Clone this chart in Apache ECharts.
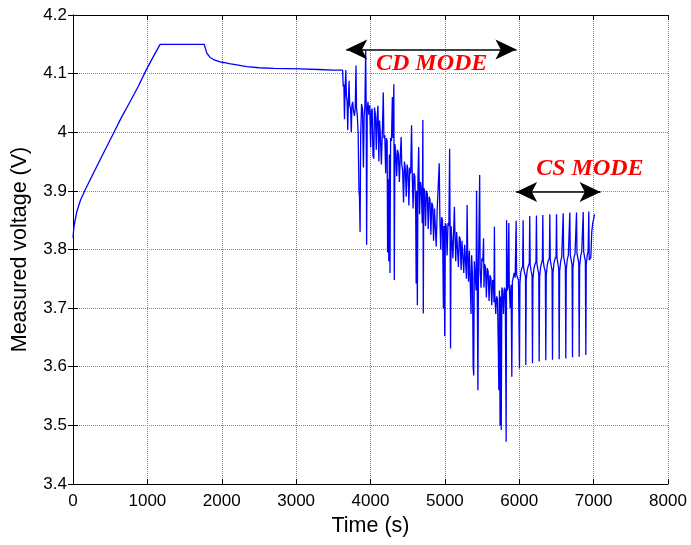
<!DOCTYPE html>
<html>
<head>
<meta charset="utf-8">
<script src="https://cdn.jsdelivr.net/npm/echarts@6/dist/echarts.min.js"></script>
<style>html,body{margin:0;padding:0;background:#fff;}#c{width:691px;height:545px;}</style>
</head>
<body>
<div id="c"></div>
<script>
// ---- data ----
const xTicks = [0, 1000, 2000, 3000, 4000, 5000, 6000, 7000, 8000];
const yTicks = [3.4, 3.5, 3.6, 3.7, 3.8, 3.9, 4.0, 4.1, 4.2];

// charging phase (time in s, voltage in V)
const timeCharge = [0, 4, 13, 50, 100, 161, 274, 400, 543, 650, 767, 880, 983, 1080, 1171, 1763, 1780, 1799, 1840, 1888, 1979, 2023, 2100, 2203, 2338, 2500, 2700, 3055, 3300, 3500, 3625];
const voltCharge = [3.820, 3.822, 3.839, 3.864, 3.884, 3.901, 3.930, 3.962, 3.998, 4.025, 4.052, 4.079, 4.106, 4.129, 4.150, 4.150, 4.143, 4.135, 4.128, 4.124, 4.120, 4.119, 4.117, 4.115, 4.112, 4.110, 4.109, 4.108, 4.107, 4.106, 4.106];

// charge-depleting (CD) phase
const timeCD = [3633,3642,3650,3658,3668,3676,3686,3694,3702,3712,3720,3732,3742,3750,3760,3772,3784,3795,3805,3812,3822,3834,3845,3852,3860,3868,3880,3892,3905,3915,3925,3935,3942,3948,3956,3966,3978,3990,4002,4012,4022,4034,4044,4054,4066,4078,4088,4100,4112,4122,4134,4146,4160,4172,4180,4192,4204,4214,4224,4230,4238,4246,4254,4262,4270,4282,4294,4302,4314,4320,4328,4340,4352,4364,4376,4388,4400,4412,4420,4432,4444,4456,4468,4480,4492,4504,4516,4528,4540,4552,4560,4572,4584,4596,4608,4614,4620,4630,4638,4648,4660,4672,4684,4696,4704,4710,4716,4728,4740,4752,4764,4776,4788,4800,4812,4824,4836,4848,4860,4872,4884,4896,4910,4924,4932,4944,4956,4968,4980,4988,4998,5006,5018,5030,5042,5054,5064,5070,5076,5084,5096,5108,5120,5128,5134,5146,5158,5170,5182,5194,5206,5218,5230,5242,5254,5266,5278,5290,5299,5306,5318,5330,5342,5352,5360,5372,5380,5388,5396,5408,5420,5426,5434,5444,5452,5460,5468,5474,5486,5498,5510,5520,5526,5534,5546,5558,5570,5582,5594,5606,5618,5630,5642,5654,5660,5666,5672,5684,5696,5708,5718,5726,5734,5742,5750,5758,5766,5776,5788,5800,5812,5818,5824,5830,5838,5848,5860,5866,5878,5890,5900,5908,5920,5932,5945];
const voltCD = [4.078,4.082,4.022,4.070,4.106,4.062,4.052,4.004,4.050,4.088,4.046,4.040,4.000,4.046,4.052,4.036,4.028,4.040,4.114,4.042,4.030,3.998,3.900,3.890,3.830,3.995,4.048,4.040,3.940,4.030,4.044,4.140,4.044,3.808,4.036,4.052,4.030,4.046,3.975,4.036,4.040,3.960,3.955,4.042,4.030,3.970,4.022,4.045,3.950,4.020,3.990,3.945,4.005,4.068,3.990,3.995,3.930,3.990,3.985,3.795,3.920,3.780,3.962,3.760,3.990,3.985,4.060,3.990,4.082,3.748,3.980,3.965,3.925,3.970,3.962,3.915,3.958,3.992,3.945,3.935,3.880,3.950,3.938,3.890,3.945,3.935,3.875,3.940,3.930,4.012,3.935,3.870,3.930,3.925,3.860,3.742,3.900,3.705,3.920,3.975,3.860,3.915,3.900,3.845,4.021,3.691,3.905,3.900,3.840,3.900,3.895,3.835,3.890,3.885,3.825,3.880,3.875,3.815,3.870,3.868,3.805,3.865,3.862,3.947,3.860,3.800,3.855,3.850,3.700,3.840,3.652,3.845,3.840,3.790,3.845,3.840,3.972,3.840,3.631,3.840,3.838,3.785,3.840,3.873,3.835,3.780,3.830,3.828,3.770,3.822,3.818,3.765,3.815,3.812,3.760,3.808,3.805,3.750,3.876,3.800,3.745,3.798,3.795,3.690,3.790,3.752,3.600,3.585,3.780,3.778,3.730,3.900,3.770,3.560,3.770,3.768,3.927,3.765,3.735,3.785,3.780,3.819,3.735,3.775,3.770,3.718,3.768,3.762,3.712,3.756,3.752,3.705,3.748,3.742,3.710,3.839,3.722,3.690,3.720,3.715,3.634,3.560,3.730,3.500,3.720,3.492,3.735,3.730,3.690,3.735,3.730,3.600,3.472,3.850,3.730,3.735,3.845,3.738,3.700,3.740,3.583,3.745,3.748,3.760,3.752];

// charge-sustaining (CS) phase
const timeCS = [5958,5964,5975,5990,6003,6009,6020,6034,6046,6052,6058,6072,6084,6088,6094,6108,6122,6135,6141,6147,6160,6172,6178,6184,6198,6212,6225,6231,6237,6250,6262,6268,6274,6288,6302,6311,6317,6323,6336,6351,6357,6363,6377,6391,6405,6411,6417,6430,6441,6447,6453,6467,6481,6495,6501,6507,6520,6531,6537,6543,6557,6571,6585,6591,6597,6610,6620,6626,6632,6646,6660,6674,6680,6686,6700,6710,6716,6722,6736,6750,6764,6770,6776,6790,6800,6806,6812,6826,6840,6854,6860,6866,6878,6889,6895,6901,6914,6926,6935,6941,6962,6975,6988,7000,7012];
const voltCS = [3.849,3.758,3.752,3.748,3.597,3.742,3.760,3.768,3.772,3.850,3.770,3.760,3.754,3.603,3.748,3.765,3.772,3.776,3.857,3.774,3.763,3.756,3.606,3.750,3.768,3.775,3.779,3.858,3.777,3.766,3.759,3.609,3.753,3.771,3.778,3.782,3.859,3.780,3.769,3.762,3.611,3.756,3.774,3.781,3.785,3.860,3.783,3.772,3.765,3.612,3.759,3.777,3.784,3.788,3.860,3.786,3.775,3.768,3.613,3.762,3.780,3.787,3.790,3.862,3.788,3.778,3.771,3.614,3.765,3.783,3.790,3.793,3.863,3.791,3.781,3.774,3.616,3.768,3.786,3.793,3.796,3.863,3.794,3.784,3.777,3.617,3.771,3.789,3.796,3.799,3.864,3.797,3.787,3.780,3.620,3.775,3.790,3.797,3.865,3.782,3.786,3.830,3.845,3.852,3.860];

// annotations: [start time, end time, voltage]
const cdArrow = [3674, 5962, 4.141];
const csArrow = [5958, 7093, 3.898];
const cdLabel = {text: 'CD MODE', t: 4822, v: 4.116};
const csLabel = {text: 'CS MODE', t: 6950, v: 3.938};

const time = timeCharge.concat(timeCD, timeCS);
const volt = voltCharge.concat(voltCD, voltCS);
const seriesData = time.map((t, i) => [t, volt[i]]);

const FONT = '"Liberation Sans", Arial, sans-serif';
const chart = echarts.init(document.getElementById('c'), null, {renderer: 'canvas'});

const gridLine = {show: true, lineStyle: {color: '#888', type: [1, 1], width: 1}};
const axisLine = {show: true, lineStyle: {color: '#000', width: 1}};
const tick = {show: true, inside: true, length: 5, lineStyle: {color: '#000'}};

chart.setOption({
  animation: false,
  backgroundColor: '#fff',
  grid: {left: 73, right: 23, top: 15, bottom: 61, containLabel: false},
  xAxis: [{
    type: 'value', min: xTicks[0], max: xTicks[xTicks.length - 1], interval: 1000,
    position: 'bottom',
    name: 'Time (s)', nameLocation: 'middle', nameGap: 30,
    nameTextStyle: {fontFamily: FONT, fontSize: 21.5, color: '#000'},
    axisLine: axisLine, axisTick: tick,
    axisLabel: {fontFamily: FONT, fontSize: 17, color: '#000', margin: 9,
      formatter: v => String(Math.round(v))},
    splitLine: gridLine
  }, {
    type: 'value', min: xTicks[0], max: xTicks[xTicks.length - 1], interval: 1000,
    position: 'top', axisLine: axisLine, axisTick: tick,
    axisLabel: {show: false}, splitLine: {show: false}
  }],
  yAxis: [{
    type: 'value', min: yTicks[0], max: yTicks[yTicks.length - 1], interval: 0.1,
    position: 'left',
    name: 'Measured voltage (V)', nameLocation: 'middle', nameGap: 42, nameRotate: 90,
    nameTextStyle: {fontFamily: FONT, fontSize: 21.5, color: '#000'},
    axisLine: axisLine, axisTick: tick,
    axisLabel: {fontFamily: FONT, fontSize: 17, color: '#000', margin: 6,
      formatter: v => String(Math.round(v * 10) / 10)},
    splitLine: gridLine
  }, {
    type: 'value', min: yTicks[0], max: yTicks[yTicks.length - 1], interval: 0.1,
    position: 'right', axisLine: axisLine, axisTick: tick,
    axisLabel: {show: false}, splitLine: {show: false}
  }],
  series: [{
    type: 'line',
    xAxisIndex: 0, yAxisIndex: 0,
    data: seriesData,
    showSymbol: false, symbol: 'none',
    sampling: null,
    lineStyle: {color: '#0000ff', width: 1.3},
    itemStyle: {color: '#0000ff'},
    markLine: {
      silent: true,
      symbol: ['arrow', 'arrow'],
      symbolSize: [15, 21],
      label: {show: false},
      lineStyle: {color: '#000', width: 1.6, type: 'solid'},
      itemStyle: {color: '#000'},
      data: [
        [{coord: [cdArrow[0], cdArrow[2]]}, {coord: [cdArrow[1], cdArrow[2]]}],
        [{coord: [csArrow[0], csArrow[2]]}, {coord: [csArrow[1], csArrow[2]]}]
      ]
    }
  }]
});

const p1 = chart.convertToPixel({xAxisIndex: 0, yAxisIndex: 0}, [cdLabel.t, cdLabel.v]);
const p2 = chart.convertToPixel({xAxisIndex: 0, yAxisIndex: 0}, [csLabel.t, csLabel.v]);
const labelStyle = {
  fontFamily: '"Liberation Serif", "Times New Roman", serif',
  fontSize: 24, fontWeight: 'bold', fontStyle: 'italic',
  fill: '#ff0000', textAlign: 'center', textVerticalAlign: 'middle'
};
chart.setOption({
  graphic: [
    {type: 'text', x: p1[0], y: p1[1], style: Object.assign({text: cdLabel.text}, labelStyle), z: 100},
    {type: 'text', x: p2[0], y: p2[1], style: Object.assign({text: csLabel.text}, labelStyle), z: 100}
  ]
});
</script>
</body>
</html>
